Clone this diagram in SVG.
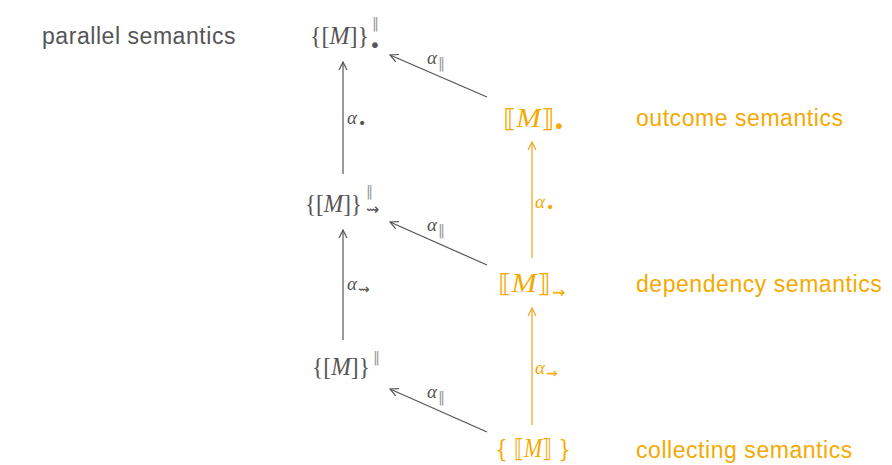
<svg xmlns="http://www.w3.org/2000/svg" width="892" height="465" viewBox="0 0 892 465">
<style>
.lbl{font-family:"Liberation Sans",Arial,sans-serif;font-size:23px;letter-spacing:0.55px}
.g{fill:#555}
.o{fill:#F5A900}
.m{font-family:"Liberation Serif","DejaVu Serif",serif;font-size:26px}
.br{font-family:"DejaVu Serif",serif;font-size:25px}
.it{font-style:italic;font-family:"Liberation Serif",serif}
.bar{font-family:"DejaVu Sans",sans-serif;font-size:14px;fill:#999}
.dot{font-family:"DejaVu Sans",sans-serif;font-size:20px}
.sq{font-family:"DejaVu Sans",sans-serif;font-size:16px}
.a{font-family:"Liberation Serif",serif;font-style:italic;font-size:19px}
.s{font-family:"DejaVu Sans",sans-serif;font-style:normal;font-size:14px}
.eg{stroke:#555;stroke-width:1.2;fill:none}
.eo{stroke:#F0A830;stroke-width:1.3;fill:none}
</style>
<defs>
<marker id="ag" markerWidth="10" markerHeight="10" refX="9" refY="5" orient="auto" markerUnits="userSpaceOnUse"><path d="M1,1 L9,5 L1,9" fill="none" stroke="#555" stroke-width="1.2"/></marker>
<marker id="ao" markerWidth="10" markerHeight="10" refX="9" refY="5" orient="auto" markerUnits="userSpaceOnUse"><path d="M1,1 L9,5 L1,9" fill="none" stroke="#F0A830" stroke-width="1.3"/></marker>
</defs>
<text class="lbl g" x="42" y="44">parallel semantics</text>
<text class="lbl o" x="636" y="126">outcome semantics</text>
<text class="lbl o" x="636" y="292">dependency semantics</text>
<text class="lbl o" x="636" y="458">collecting semantics</text>
<g id="connectors">
<line class="eg" x1="343" y1="174" x2="343" y2="62" marker-end="url(#ag)"/>
<line class="eg" x1="343" y1="340" x2="343" y2="230" marker-end="url(#ag)"/>
<line class="eo" x1="532" y1="258" x2="532" y2="142" marker-end="url(#ao)"/>
<line class="eo" x1="532" y1="425" x2="532" y2="308" marker-end="url(#ao)"/>
<line class="eg" x1="487" y1="97" x2="390" y2="55" marker-end="url(#ag)"/>
<line class="eg" x1="487" y1="265" x2="390" y2="222" marker-end="url(#ag)"/>
<line class="eg" x1="487" y1="432" x2="390" y2="389" marker-end="url(#ag)"/>
<text class="a g" x="347" y="124">α<tspan class="s" dx="1" dy="4">•</tspan></text>
<text class="a g" x="347" y="290">α<tspan class="s" dx="1" dy="4">⇝</tspan></text>
<text class="a o" x="535" y="208">α<tspan class="s" dx="1" dy="4">•</tspan></text>
<text class="a o" x="535" y="374">α<tspan class="s" dx="1" dy="4">⇝</tspan></text>
<text class="a g" x="427" y="64">α<tspan class="s" dx="1" dy="4" fill="#999">‖</tspan></text>
<text class="a g" x="427" y="231">α<tspan class="s" dx="1" dy="4" fill="#999">‖</tspan></text>
<text class="a g" x="427" y="398">α<tspan class="s" dx="1" dy="4" fill="#999">‖</tspan></text>
</g>
<g id="n1"><text class="m g" x="310" y="44" textLength="59" lengthAdjust="spacingAndGlyphs">{[<tspan class="it">M</tspan>]}</text><text class="bar" x="372" y="28">‖</text><text class="dot g" x="369" y="52">•</text></g>
<g id="n2"><text class="m g" x="305" y="212" textLength="57" lengthAdjust="spacingAndGlyphs">{[<tspan class="it">M</tspan>]}</text><text class="bar" x="366" y="196">‖</text><text class="sq g" x="366" y="215">⇝</text></g>
<g id="n3"><text class="m g" x="312" y="375" textLength="58" lengthAdjust="spacingAndGlyphs">{[<tspan class="it">M</tspan>]}</text><text class="bar" x="373" y="362">‖</text></g>
<g id="n4"><text class="br o" x="503" y="127" textLength="51" lengthAdjust="spacingAndGlyphs">⟦<tspan class="it" font-size="27">M</tspan>⟧</text><text class="dot o" x="553" y="133">•</text></g>
<g id="n5"><text class="br o" x="498" y="292" textLength="52" lengthAdjust="spacingAndGlyphs">⟦<tspan class="it" font-size="27">M</tspan>⟧</text><text class="sq o" x="552" y="298">⇝</text></g>
<g id="n6"><text class="br o" x="495" y="457" textLength="76" lengthAdjust="spacingAndGlyphs">{ ⟦<tspan class="it" font-size="27">M</tspan>⟧ }</text></g>
</svg>
